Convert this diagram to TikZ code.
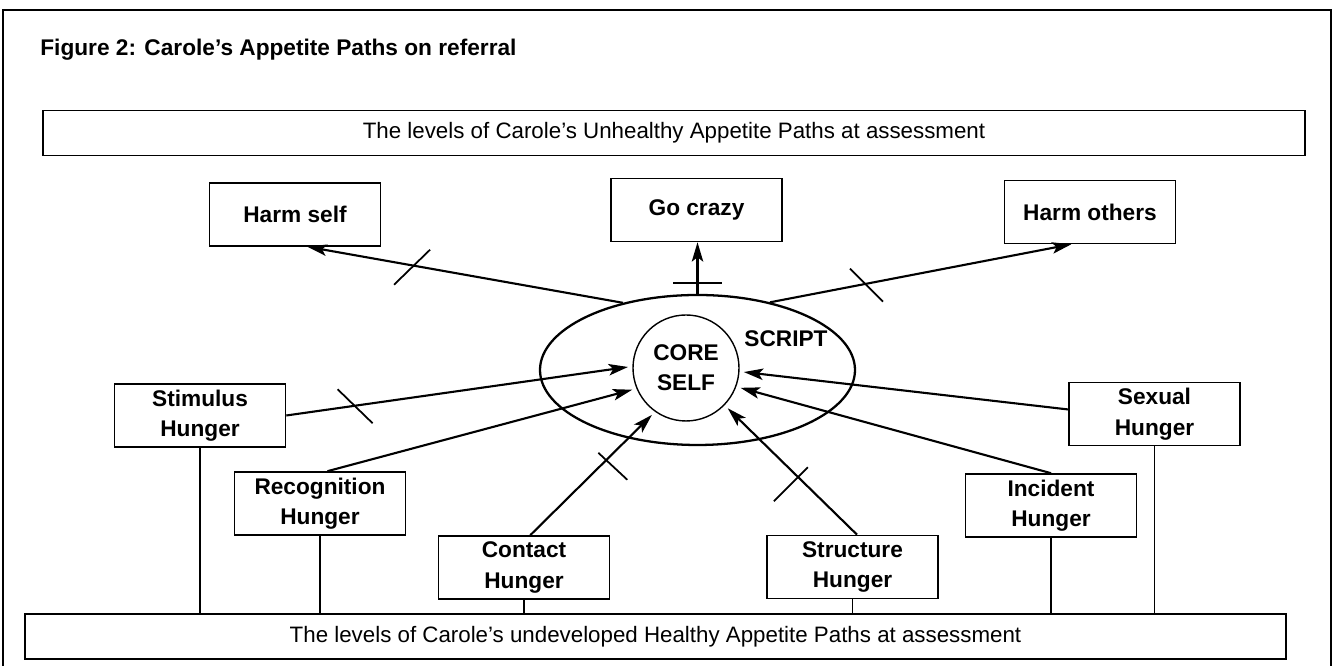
\documentclass[tikz,border=0pt]{standalone}
\usepackage{fontspec}
\setmainfont{Liberation Sans}
\usetikzlibrary{arrows.meta,shapes.geometric}

\begin{document}
\begin{tikzpicture}[
  box/.style={draw,line width=0.9pt,minimum width=3.42cm,minimum height=1.26cm,
    inner sep=0pt,align=center,font=\fontsize{12.9}{17.4}\selectfont\bfseries},
  band/.style={draw,line width=0.9pt,minimum width=25.23cm,minimum height=0.9cm,
    inner sep=0pt,font=\fontsize{12.7}{15}\selectfont},
  feed/.style={line width=1.2pt,-{Stealth[length=11pt,width=6.5pt,inset=2.5pt]}},
  cutmark/.style={line width=1pt}
]
  \useasboundingbox (0,0) rectangle (26.66,13.32);
  % frame (open bottom)
  \draw[line width=0.9pt] (0.06,0) -- (0.06,13.12) -- (26.62,13.12) -- (26.62,0);
  % title
  \node[anchor=base west,inner sep=0pt,font=\fontsize{12.9}{15}\selectfont\bfseries] (title) at (0.8,12.2)
    {Figure 2: Carole’s Appetite Paths on referral};
  % bands
  \node[band] (unhealthy) at (13.48,10.66) {The levels of Carole’s Unhealthy Appetite Paths at assessment};
  \node[band] (healthy) at (13.11,0.59) {The levels of Carole’s undeveloped Healthy Appetite Paths at assessment};
  % unhealthy outcomes
  \node[box] (harmself) at (5.90,9.03) {Harm self};
  \node[box] (gocrazy) at (13.93,9.12) {Go crazy};
  \node[box] (harmothers) at (21.8,9.08) {Harm others};
  % script and core self
  \node[draw,ellipse,line width=1.3pt,minimum width=6.3cm,minimum height=3cm,inner sep=0pt] (script) at (13.95,5.92) {};
  \node[font=\fontsize{12.9}{15}\selectfont\bfseries] (scriptlabel) at (15.72,6.54) {SCRIPT};
  \node[draw,circle,line width=0.8pt,minimum size=2.12cm,inner sep=0pt,outer sep=0.1cm,align=center,
    font=\fontsize{12.9}{17}\selectfont\bfseries] (core) at (13.72,5.96) {CORE\\SELF};
  % hunger boxes
  \foreach \n/\x/\y/\t in {stimulus/4.0/5.01/Stimulus, recognition/6.4/3.25/Recognition,
      contact/10.48/1.97/Contact, structure/17.05/1.98/Structure,
      incident/21.02/3.21/Incident, sexual/23.09/5.04/Sexual}
    \node[box] (\n) at (\x,\y) {\t\\Hunger};
  % hungers feeding the core
  \draw[feed] (stimulus.east) -- coordinate[pos=0.2] (cutstim) (core.179);
  \draw[feed] (recognition.77) -- (core.202);
  \draw[feed] (contact.79) -- coordinate[pos=0.624] (cutcont) (core.234);
  \draw[feed] (structure.82) -- coordinate[pos=0.456] (cutstru) (core.-44);
  \draw[feed] (incident.north) -- (core.-20);
  \draw[feed] (sexual.177) -- (core.-4);
  % script out to the outcomes
  \draw[feed] (script.138) -- coordinate[pos=0.663] (cutself) (harmself.-69);
  \draw[feed] (script.north) -- coordinate[pos=0.21] (cutcrazy) (script.north |- gocrazy.south);
  \draw[feed] (script.43) -- coordinate[pos=0.316] (cutothers) (harmothers.-120);
  % cut marks
  \draw[cutmark] (cutstim) +(-0.34,0.33) -- +(0.36,-0.35);
  \draw[cutmark] (cutcont) +(-0.156,0.146) -- +(0.424,-0.394);
  \draw[cutmark] (cutstru) +(-0.484,-0.484) -- +(0.196,0.196);
  \draw[cutmark] (cutself) +(-0.394,-0.382) -- +(0.326,0.318);
  \draw[cutmark] (cutcrazy) +(-0.49,0) -- +(0.49,0);
  \draw[cutmark] (cutothers) +(-0.306,0.306) -- +(0.354,-0.354);
  % links down to the healthy band
  \foreach \n in {stimulus,recognition,contact,structure,incident,sexual}
    \draw[line width=0.9pt] (\n.south) -- (\n.south |- healthy.north);
\end{tikzpicture}
\end{document}
